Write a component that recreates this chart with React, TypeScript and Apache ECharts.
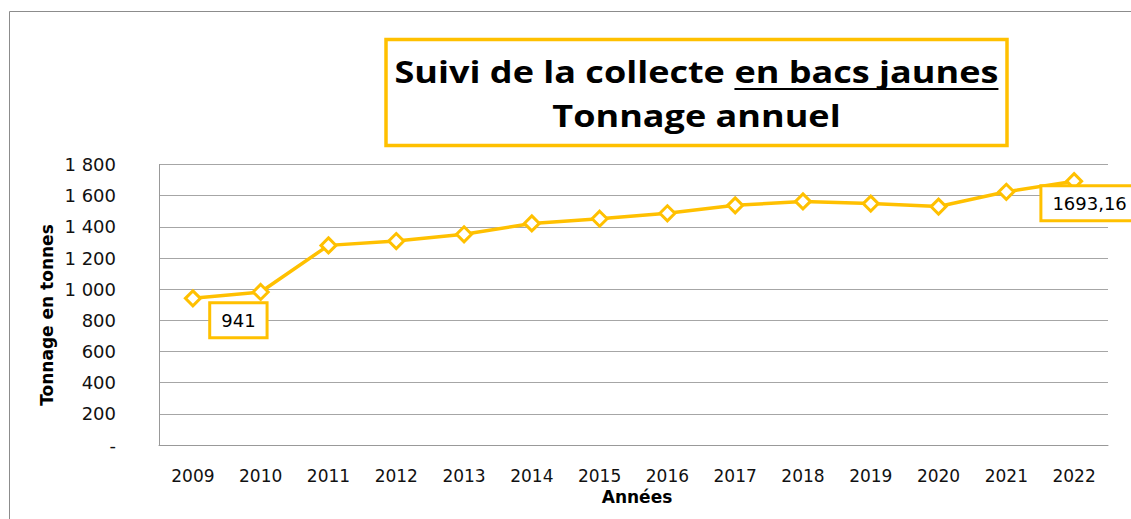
import React, { useEffect, useRef } from "react";
import * as echarts from "echarts";

const years = ["2009", "2010", "2011", "2012", "2013", "2014", "2015", "2016", "2017", "2018", "2019", "2020", "2021", "2022"];
const tonnage = [941, 982, 1281, 1309, 1352, 1422, 1452, 1487, 1538, 1563, 1549, 1530, 1625, 1693.16];
const labelledIndex = [0, 13];
const yTicks = { min: 0, max: 1800, interval: 200 };

const titleLine1a = "Suivi de la collecte ";
const titleLine1b = "en bacs jaunes";
const titleLine2 = "Tonnage annuel";

const GOLD = "#FFC000";

function fmtY(v: number) {
  if (v === 0) return "-";
  const s = String(Math.round(v));
  return s.replace(/\B(?=(\d{3})+(?!\d))/g, " ");
}

function fmtLabel(v: number) {
  return String(v).replace(".", ",");
}

export default function App() {
  const ref = useRef<HTMLDivElement>(null);
  useEffect(() => {
    if (!ref.current) return;
    const chart = echarts.init(ref.current, null, { renderer: "svg" });

    const titleFont = 'bold 30px "Open Sans"';
    const canvas = document.createElement("canvas");
    const ctx = canvas.getContext("2d")!;
    ctx.font = titleFont;
    const wA = ctx.measureText(titleLine1a).width;
    const wB = ctx.measureText(titleLine1b).width;
    const w1 = wA + wB;
    const target = 604;
    const sx = target / w1;
    const cx = 696.5;
    const startX = -w1 / 2;

    const data = tonnage.map((v, i) => {
      if (!labelledIndex.includes(i)) return v;
      const off = i === 0 ? [45.5, 22] : [15.5, 22];
      return {
        value: v,
        label: {
          show: true,
          position: "inside",
          offset: off,
          formatter: () => fmtLabel(v),
          color: "#000",
          fontFamily: "DejaVu Sans",
          fontSize: 18,
          lineHeight: 20,
          backgroundColor: "#fff",
          borderColor: GOLD,
          borderWidth: 3,
          padding: [6, 10, 6, 10],
        },
      };
    });

    chart.setOption({
      animation: false,
      grid: { left: 159, right: 23, top: 164.5, bottom: 74, containLabel: false },
      xAxis: {
        type: "category",
        data: years,
        boundaryGap: true,
        axisLine: { show: true, lineStyle: { color: "#999", width: 1 } },
        axisTick: { show: false },
        axisLabel: { color: "#111", fontFamily: "DejaVu Sans", fontSize: 17, margin: 22 },
        splitLine: { show: false },
      },
      yAxis: {
        type: "value",
        min: yTicks.min,
        max: yTicks.max,
        interval: yTicks.interval,
        axisLine: { show: true, lineStyle: { color: "#999", width: 1 } },
        axisTick: { show: false },
        axisLabel: { color: "#111", fontFamily: "DejaVu Sans", fontSize: 18, margin: 43, formatter: fmtY },
        splitLine: { show: true, lineStyle: { color: "#a6a6a6", width: 1 } },
      },
      series: [
        {
          type: "line",
          data,
          symbol: "diamond",
          symbolSize: 15,
          lineStyle: { color: GOLD, width: 3.5 },
          itemStyle: { color: "#fff", borderColor: GOLD, borderWidth: 3 },
          z: 3,
        },
      ],
      graphic: [
        {
          type: "rect",
          shape: { x: 9.5, y: 11.5, width: 1300, height: 700 },
          style: { fill: "none", stroke: "#8c8c8c", lineWidth: 1 },
          silent: true,
          z: -10,
        },
        {
          type: "rect",
          shape: { x: 386, y: 39.5, width: 621, height: 106 },
          style: { fill: "#fff", stroke: GOLD, lineWidth: 3.5 },
          z: 10,
        },
        {
          type: "group",
          x: cx,
          y: 0,
          scaleX: sx,
          z: 11,
          children: [
            {
              type: "text",
              x: startX,
              y: 72,
              style: { text: titleLine1a, font: titleFont, fill: "#000", textAlign: "left", textVerticalAlign: "middle" },
              z: 11,
            },
            {
              type: "text",
              x: startX + wA,
              y: 72,
              style: { text: titleLine1b, font: titleFont, fill: "#000", textAlign: "left", textVerticalAlign: "middle" },
              z: 11,
            },
            {
              type: "line",
              shape: { x1: startX + wA, y1: 89, x2: startX + w1, y2: 89 },
              style: { stroke: "#000", lineWidth: 2 },
              z: 11,
            },
            {
              type: "text",
              x: 0,
              y: 116,
              style: { text: titleLine2, font: titleFont, fill: "#000", textAlign: "center", textVerticalAlign: "middle" },
              z: 11,
            },
          ],
        },
        {
          type: "text",
          x: 47,
          y: 315,
          rotation: Math.PI / 2,
          style: { text: "Tonnage en tonnes", font: 'bold 17px "DejaVu Sans"', fill: "#000", textAlign: "center", textVerticalAlign: "middle" },
        },
        {
          type: "text",
          x: 637,
          y: 497,
          style: { text: "Années", font: 'bold 17px "DejaVu Sans"', fill: "#000", textAlign: "center", textVerticalAlign: "middle" },
        },
      ],
    });
    return () => chart.dispose();
  }, []);
  return <div ref={ref} style={{ position: "absolute", left: 0, top: 0, width: 1131, height: 519 }} />;
}
